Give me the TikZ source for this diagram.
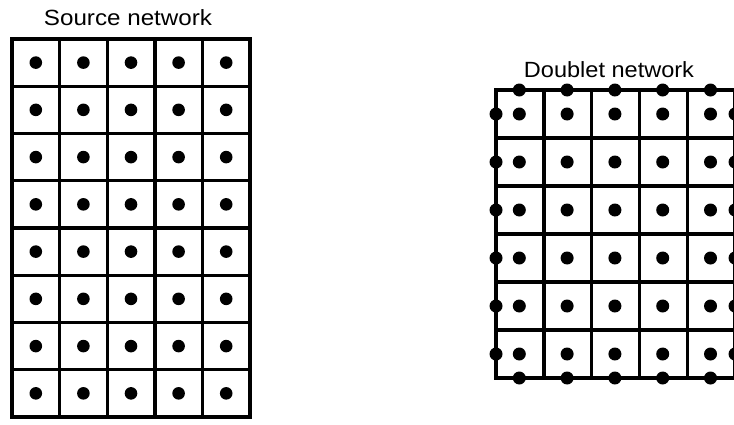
\documentclass[tikz,border=0pt]{standalone}
\usepackage{fontspec}
\setmainfont{Liberation Sans}
\begin{document}
\begin{tikzpicture}[x=1pt,y=-1pt,
  gridline/.style={line width=3.4pt,line cap=rect},
  dot/.style={fill=black},
  label/.style={font=\fontsize{22}{26}\selectfont,inner sep=0pt,anchor=center}]
\useasboundingbox (0,0) rectangle (734,424);
% Source network
\node[label,xscale=1.1] (srclabel) at (128,18) {Source network};
\foreach \i in {0,...,5} \draw[gridline] (12+\i*47.6,39) -- (12+\i*47.6,417);
\foreach \j in {0,...,8} \draw[gridline] (12,39+\j*47.25) -- (250,39+\j*47.25);
\foreach \i in {0,...,4} \foreach \j in {0,...,7}
  \fill[dot] (12+\i*47.6+23.8,39+\j*47.25+23.6) circle (6.3);
% Doublet network
\node[label,xscale=1.07] (dbllabel) at (609,70) {Doublet network};
\foreach \i in {0,...,5} \draw[gridline] (496+\i*47.8,90) -- (496+\i*47.8,378);
\foreach \j in {0,...,6} \draw[gridline] (496,90+\j*48) -- (735,90+\j*48);
\foreach \i in {0,...,4} \foreach \j in {0,...,5}
  \fill[dot] (496+\i*47.8+23.3,90+\j*48+24) circle (6.5);
\foreach \i in {0,...,4} {
  \fill[dot] (496+\i*47.8+23.3,90) circle (6.5);
  \fill[dot] (496+\i*47.8+23.3,378) circle (6.5);
}
\foreach \j in {0,...,5} {
  \fill[dot] (496,90+\j*48+24) circle (6.5);
  \fill[dot] (735,90+\j*48+24) circle (6.5);
}
\end{tikzpicture}
\end{document}
